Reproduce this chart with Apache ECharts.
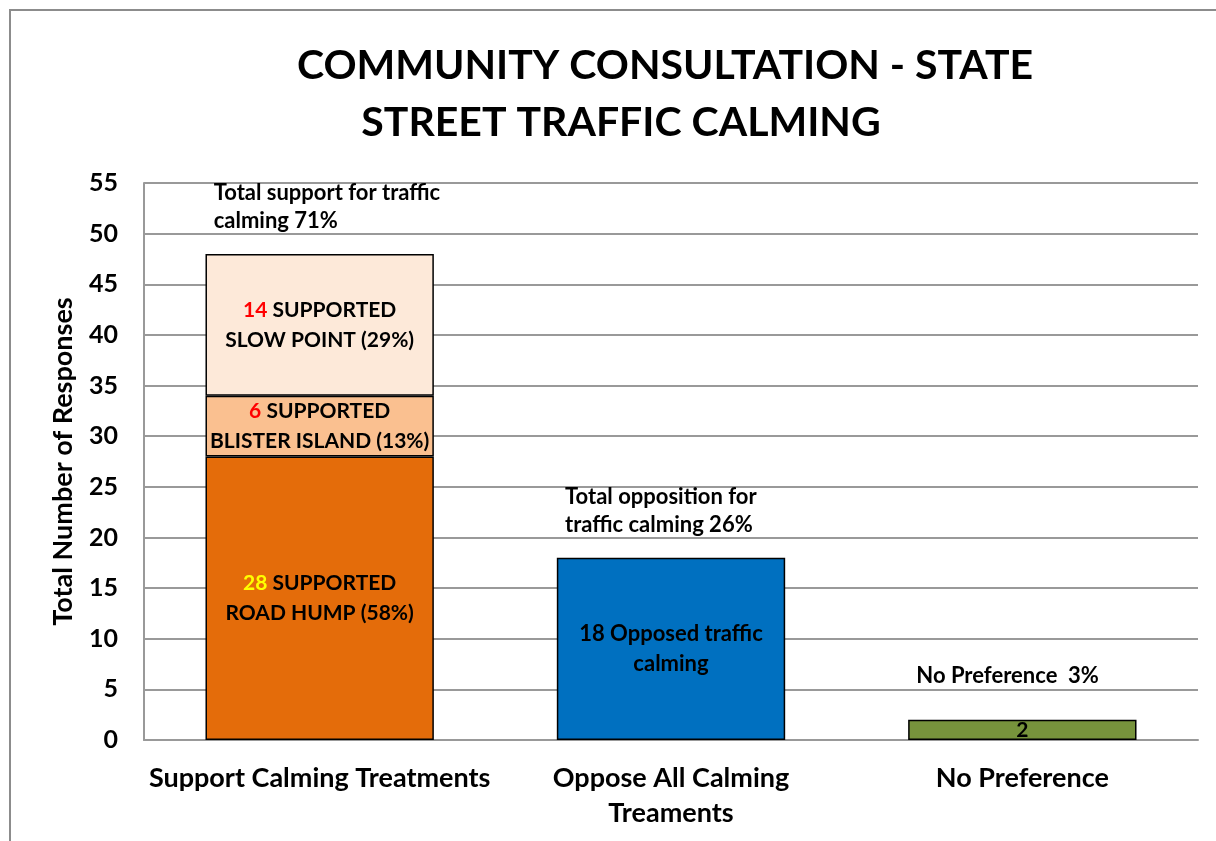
<!DOCTYPE html>
<html>
<head>
<meta charset="utf-8">
<title>Community Consultation - State Street Traffic Calming</title>
<script src="https://cdn.jsdelivr.net/npm/echarts@6/dist/echarts.min.js"></script>
<style>
    html, body { margin: 0; padding: 0; background: #fff; }
    #chartBox { width: 1216px; height: 841px; }
</style>
</head>
<body>
<div id="chartBox"></div>
<script>
// categories on the x axis
var categories = ['Support Calming Treatments', 'Oppose All Calming\nTreaments', 'No Preference'];
// stacked segments of the first bar (bottom to top)
var roadHump = [28, '-', '-'];
var blisterIsland = [6, '-', '-'];
var slowPoint = [14, '-', '-'];
// other bars
var opposed = ['-', 18, '-'];
var noPreference = ['-', '-', 2];
// texts shown with the marks
var segmentText = {
    roadHump: 'SUPPORTED\nROAD HUMP (58%)',
    blisterIsland: 'SUPPORTED\nBLISTER ISLAND (13%)',
    slowPoint: 'SUPPORTED\nSLOW POINT (29%)',
    opposed: 'Opposed traffic\ncalming'
};
var totalText = ['Total support for traffic\ncalming 71%', 'Total opposition for\ntraffic calming 26%', 'No Preference  3%'];
var yTicks = [0, 55, 5]; // min, max, interval

var FONT = 'Lato, "Open Sans", sans-serif';

(function () {
    var myChart = echarts.init(document.getElementById('chartBox'));

    // bar totals, for the labels above each bar
    var totals = categories.map(function (c, i) {
        var s = 0;
        [roadHump, blisterIsland, slowPoint, opposed, noPreference].forEach(function (arr) {
            if (arr[i] !== '-') s += arr[i];
        });
        return s;
    });

    var rich = {
        red: { color: '#ff0000', fontWeight: 'bold', fontSize: 21, fontFamily: FONT, lineHeight: 30 },
        yel: { color: '#ffff00', fontWeight: 'bold', fontSize: 21, fontFamily: FONT, lineHeight: 30 },
        blk: { color: '#000', fontWeight: 'bold', fontSize: 21, fontFamily: FONT, lineHeight: 30, align: 'center' }
    };

    // one stacked bar segment
    function seg(name, data, color, numStyle, text, size) {
        return {
            name: name,
            type: 'bar',
            stack: 'all',
            data: data,
            barCategoryGap: '35%',
            itemStyle: { color: color, borderColor: '#000', borderWidth: 1.5 },
            label: {
                show: true,
                position: 'inside',
                color: '#000',
                fontWeight: 'bold',
                fontSize: size || 21,
                fontFamily: FONT,
                lineHeight: 30,
                align: 'center',
                rich: rich,
                formatter: function (p) {
                    var lines = text.split('\n');
                    var first = numStyle ? '{' + numStyle + '|' + p.value + '}{blk| ' + lines[0] + '}' : p.value + ' ' + lines[0];
                    return first + '\n' + lines[1];
                }
            }
        };
    }

    var option = {
        backgroundColor: '#fff',
        animation: false,
        title: [
            {
                text: 'COMMUNITY CONSULTATION - STATE',
                left: 660, top: 40, textAlign: 'center',
                textStyle: { fontFamily: FONT, fontWeight: 'bold', fontSize: 41, color: '#000' }
            },
            {
                text: 'STREET TRAFFIC CALMING',
                left: 616, top: 97, textAlign: 'center',
                textStyle: { fontFamily: FONT, fontWeight: 'bold', fontSize: 41, color: '#000' }
            }
        ],
        graphic: [{
            type: 'rect',
            shape: { x: 10, y: 10, width: 1400, height: 1000 },
            style: { fill: 'none', stroke: '#8c8c8c', lineWidth: 2 },
            silent: true
        }],
        grid: { left: 144, right: 18, top: 183, bottom: 101 },
        xAxis: {
            type: 'category',
            data: categories,
            axisLine: { lineStyle: { color: '#999', width: 2 } },
            axisTick: { show: false },
            axisLabel: {
                color: '#000', fontWeight: 'bold', fontSize: 27, fontFamily: FONT,
                lineHeight: 35, margin: 21, interval: 0
            }
        },
        yAxis: {
            type: 'value',
            min: yTicks[0], max: yTicks[1], interval: yTicks[2],
            name: 'Total Number of Responses',
            nameLocation: 'middle',
            nameRotate: 90,
            nameGap: 67,
            nameTextStyle: { color: '#000', fontWeight: 'bold', fontSize: 27, fontFamily: FONT },
            axisLine: { show: true, lineStyle: { color: '#999', width: 2 } },
            axisTick: { show: false },
            splitLine: { lineStyle: { color: '#999', width: 2 } },
            axisLabel: { color: '#000', fontWeight: 'bold', fontSize: 25, fontFamily: FONT, margin: 26 }
        },
        series: [
            seg('Road Hump', roadHump, '#e46c0a', 'yel', segmentText.roadHump),
            seg('Blister Island', blisterIsland, '#fac090', 'red', segmentText.blisterIsland),
            seg('Slow Point', slowPoint, '#fde9d9', 'red', segmentText.slowPoint),
            seg('Opposed', opposed, '#0070c0', null, segmentText.opposed, 22),
            {
                name: 'No Preference',
                type: 'bar',
                stack: 'all',
                data: noPreference,
                itemStyle: { color: '#77933c', borderColor: '#000', borderWidth: 1.5 },
                label: {
                    show: true, position: 'inside', color: '#000',
                    fontWeight: 'bold', fontSize: 21, fontFamily: FONT
                }
            },
            {
                // text above each bar
                name: 'totals',
                type: 'scatter',
                symbolSize: 0,
                itemStyle: { opacity: 1 },
                data: totals.map(function (v, i) {
                    return {
                        value: v,
                        label: { offset: [-106, i === 2 ? -25 : -14] }
                    };
                }),
                label: {
                    show: true,
                    position: 'top',
                    align: 'left',
                    color: '#000',
                    fontWeight: 'bold',
                    fontSize: 22,
                    fontFamily: FONT,
                    lineHeight: 28,
                    formatter: function (p) { return totalText[p.dataIndex]; }
                }
            }
        ]
    };

    myChart.setOption(option);
    window.addEventListener('resize', function () {
        myChart.resize();
    });
})();
</script>
</body>
</html>
